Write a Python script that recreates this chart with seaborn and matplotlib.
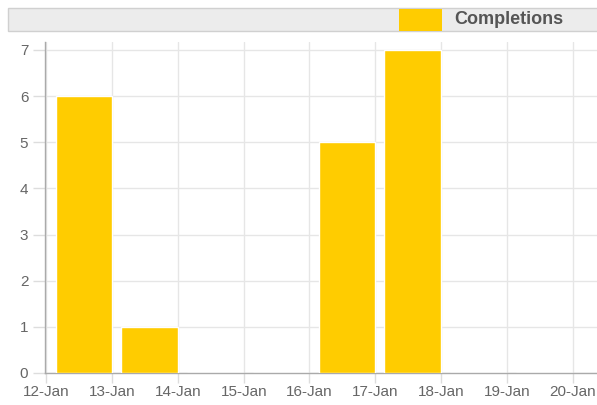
import matplotlib
matplotlib.use("Agg")
import matplotlib.pyplot as plt
from matplotlib.patches import Rectangle
import pandas as pd
import seaborn as sns

# data
days = ["12-Jan", "13-Jan", "14-Jan", "15-Jan", "16-Jan", "17-Jan", "18-Jan", "19-Jan"]
completions = [6, 1, 0, 0, 5, 7, 0, 0]
tick_labels = ["12-Jan", "13-Jan", "14-Jan", "15-Jan", "16-Jan", "17-Jan", "18-Jan", "19-Jan", "20-Jan"]
y_ticks = [0, 1, 2, 3, 4, 5, 6, 7]

df = pd.DataFrame({"day": days, "Completions": completions})

sns.set_style("white")
plt.rcParams["font.family"] = ["Liberation Sans", "DejaVu Sans"]

fig = plt.figure(figsize=(5.97, 4.05), dpi=100)
ax = fig.add_axes([45 / 597, 32 / 405, 552 / 597, 331 / 405])

bar_w = 0.86
sns.barplot(data=df, x="day", y="Completions", color="#FFCC00", width=bar_w,
            saturation=1, ax=ax, zorder=3)

# dates sit on the bar edges: each bar ends at the next date
shift = bar_w / 2 - 1
ax.set_xticks([i + shift for i in range(len(tick_labels))])
ax.set_xticklabels(tick_labels)
ax.set_xlim(shift - 0.02, len(days) - 0.2)
ax.set_ylim(0, 7.17)
ax.set_yticks(y_ticks)

ax.grid(True, color="#e6e6e6", linewidth=1, zorder=0)
ax.set_axisbelow(True)
for side in ["top", "right"]:
    ax.spines[side].set_visible(False)
for side in ["left", "bottom"]:
    ax.spines[side].set_color("#aaaaaa")
    ax.spines[side].set_linewidth(1)
ax.tick_params(axis="both", colors="#dddddd", labelcolor="#666666", labelsize=11,
               width=1, direction="out", bottom=True, left=True)
ax.tick_params(axis="x", length=7, pad=2)
ax.tick_params(axis="y", length=9, pad=3)
ax.set_xlabel("")
ax.set_ylabel("")

# legend strip across the top
fig.add_artist(Rectangle((8 / 597, 374 / 405), 590 / 597, 23 / 405,
                         transform=fig.transFigure, facecolor="#ececec",
                         edgecolor="#d0d0d0", linewidth=1))
fig.add_artist(Rectangle((399 / 597, 374 / 405), 43 / 597, 22 / 405,
                         transform=fig.transFigure, facecolor="#FFCC00",
                         edgecolor="none"))
fig.text(454 / 597, 385 / 405, "Completions", fontsize=13, fontweight="bold",
         color="#555555", va="center", ha="left")

fig.savefig("out.png", dpi=100)
